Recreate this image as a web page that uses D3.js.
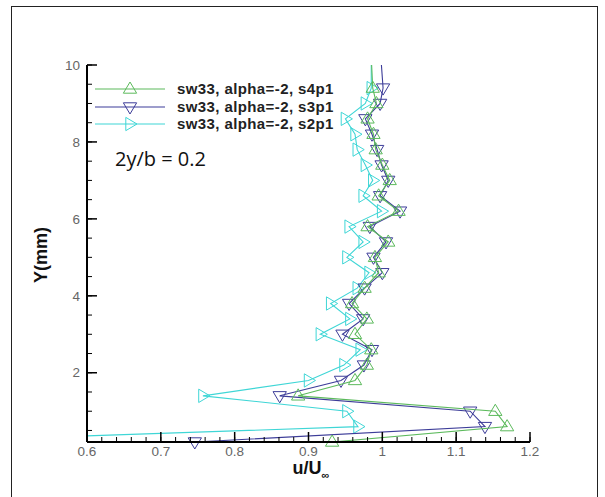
<!DOCTYPE html>
<html>
<head>
<meta charset="utf-8">
<script src="https://cdn.jsdelivr.net/npm/d3@7"></script>
<style>
  body { margin: 0; background: #fff; }
  svg { display: block; }
  text { font-family: "Liberation Sans", Arial, sans-serif; }
</style>
</head>
<body>
<div id="chart"></div>
<script>
// Y positions (mm) of the probe points
var yPos = [0.2, 0.6, 1.0, 1.4, 1.8, 2.2, 2.6, 3.0, 3.4, 3.8, 4.2, 4.6, 5.0, 5.4, 5.8, 6.2, 6.6, 7.0, 7.4, 7.8, 8.2, 8.6, 9.0, 9.4, 10.2];

// u/U_inf for each run
var s4p1 = [0.932, 1.169, 1.153, 0.886, 0.963, 0.979, 0.985, 0.963, 0.979, 0.959, 0.976, 0.995, 0.990, 1.008, 0.980, 1.022, 0.995, 1.010, 1.000, 0.991, 0.988, 0.980, 0.992, 0.987, 0.985];
var s3p1 = [0.746, 1.139, 1.119, 0.861, 0.944, 0.975, 0.986, 0.946, 0.974, 0.955, 0.976, 1.000, 0.988, 1.005, 0.983, 1.024, 0.997, 1.008, 0.999, 0.993, 0.986, 0.977, 0.997, 1.001, 0.998];
var s2p1 = [0.360, 0.967, 0.952, 0.757, 0.900, 0.948, 0.970, 0.916, 0.956, 0.930, 0.966, 0.982, 0.952, 0.974, 0.955, 0.999, 0.974, 0.987, 0.977, 0.966, 0.963, 0.950, 0.977, 0.985, 0.985];

var seriesNames = ["sw33, alpha=-2, s4p1", "sw33, alpha=-2, s3p1", "sw33, alpha=-2, s2p1"];

var xTicks = [0.6, 0.7, 0.8, 0.9, 1.0, 1.1, 1.2];
var xTickLabels = ["0.6", "0.7", "0.8", "0.9", "1", "1.1", "1.2"];
var yTicks = [2, 4, 6, 8, 10];

var W = 605, H = 497;
var margin = {top: 65, right: 75, bottom: 55, left: 87},
    width = 530 - margin.left,
    height = 442 - margin.top;

var svg = d3.select("#chart")
    .append("svg")
    .attr("width", W)
    .attr("height", H);

// outer frame
svg.append("rect")
    .attr("x", 11.5).attr("y", 6.5)
    .attr("width", 586).attr("height", 500)
    .attr("fill", "none")
    .attr("stroke", "#222")
    .attr("stroke-width", 1);

var g = svg.append("g")
    .attr("transform", "translate(" + margin.left + "," + margin.top + ")");

var x = d3.scaleLinear().domain([0.6, 1.2]).range([0, width]);
var y = d3.scaleLinear().domain([0.2, 10]).range([height, 0]);

g.append("clipPath").attr("id", "plotclip")
  .append("rect").attr("x", 0).attr("y", 0).attr("width", width).attr("height", height);

var series = [
    {name: seriesNames[0], vals: s4p1, color: "#5cba5c", shape: "up"},
    {name: seriesNames[1], vals: s3p1, color: "#3d3d99", shape: "down"},
    {name: seriesNames[2], vals: s2p1, color: "#3fd6d6", shape: "right"}
];

function tri(shape, s) {
    // outline triangle centred on 0,0
    if (shape == "up") return "M0," + (-s) + "L" + (s * 0.95) + "," + (s * 0.6) + "L" + (-s * 0.95) + "," + (s * 0.6) + "Z";
    if (shape == "down") return "M0," + s + "L" + (s * 0.95) + "," + (-s * 0.6) + "L" + (-s * 0.95) + "," + (-s * 0.6) + "Z";
    return "M" + s + ",0L" + (-s * 0.6) + "," + (s * 0.95) + "L" + (-s * 0.6) + "," + (-s * 0.95) + "Z";
}

var line = d3.line()
    .x(function(d) { return x(d[0]); })
    .y(function(d) { return y(d[1]); });

// draw back to front: cyan, blue, green
series.slice().reverse().forEach(function(s) {
    var pts = s.vals.map(function(v, i) { return [v, yPos[i]]; });
    g.append("path")
        .datum(pts)
        .attr("clip-path", "url(#plotclip)")
        .attr("fill", "none")
        .attr("stroke", s.color)
        .attr("stroke-width", 1.1)
        .attr("d", line);
    g.selectAll(null)
        .data(pts.filter(function(d) { return d[0] >= 0.6 && d[1] <= 10; }))
        .enter().append("path")
        .attr("transform", function(d) { return "translate(" + x(d[0]) + "," + y(d[1]) + ")"; })
        .attr("d", tri(s.shape, 7))
        .attr("fill", "none")
        .attr("stroke", s.color)
        .attr("stroke-width", 1);
});

// X axis, ticks pointing inward
var xMinor = d3.range(0.6, 1.2001, 0.02);
g.selectAll(".xminor").data(xMinor).enter().append("line")
    .attr("x1", function(d) { return x(d); }).attr("x2", function(d) { return x(d); })
    .attr("y1", height).attr("y2", height - 5)
    .attr("stroke", "#000").attr("stroke-width", 1);
g.selectAll(".xmajor").data(xTicks).enter().append("line")
    .attr("x1", function(d) { return x(d); }).attr("x2", function(d) { return x(d); })
    .attr("y1", height).attr("y2", height - 10)
    .attr("stroke", "#000").attr("stroke-width", 1.5);
g.selectAll(".xlab").data(xTicks).enter().append("text")
    .attr("x", function(d) { return x(d); })
    .attr("y", height + 14)
    .attr("text-anchor", "middle")
    .style("font-size", "13.5px")
    .style("fill", "#666")
    .text(function(d, i) { return xTickLabels[i]; });

// Y axis
var yMinor = d3.range(0.5, 10.001, 0.5);
g.selectAll(".yminor").data(yMinor).enter().append("line")
    .attr("x1", 0).attr("x2", 5)
    .attr("y1", function(d) { return y(d); }).attr("y2", function(d) { return y(d); })
    .attr("stroke", "#000").attr("stroke-width", 1);
g.selectAll(".ymajor").data(yTicks).enter().append("line")
    .attr("x1", 0).attr("x2", 10)
    .attr("y1", function(d) { return y(d); }).attr("y2", function(d) { return y(d); })
    .attr("stroke", "#000").attr("stroke-width", 1.5);
g.selectAll(".ylab").data(yTicks).enter().append("text")
    .attr("x", -7)
    .attr("y", function(d) { return y(d); })
    .attr("dy", "0.35em")
    .attr("text-anchor", "end")
    .style("font-size", "13.5px")
    .style("fill", "#666")
    .text(function(d) { return d; });

g.append("line").attr("x1", 0).attr("x2", 0).attr("y1", 0).attr("y2", height)
    .attr("stroke", "#000").attr("stroke-width", 2);
g.append("line").attr("x1", 0).attr("x2", width).attr("y1", height).attr("y2", height)
    .attr("stroke", "#000").attr("stroke-width", 2);

// axis titles
svg.append("text")
    .attr("transform", "translate(47,255) rotate(-90)")
    .attr("text-anchor", "middle")
    .style("font-size", "18px")
    .style("font-weight", "bold")
    .style("fill", "#111")
    .text("Y(mm)");

var xt = svg.append("text")
    .attr("x", 311).attr("y", 474)
    .attr("text-anchor", "middle")
    .style("font-size", "18px")
    .style("font-weight", "bold")
    .style("fill", "#111");
xt.append("tspan").text("u/U");
xt.append("tspan").attr("dy", 5).style("font-size", "11px").text("\u221e");

// legend
var legY = [89, 107, 124];
series.forEach(function(s, i) {
    svg.append("line")
        .attr("x1", 95).attr("x2", 165)
        .attr("y1", legY[i]).attr("y2", legY[i])
        .attr("stroke", s.color).attr("stroke-width", 1.1);
    svg.append("path")
        .attr("transform", "translate(130," + legY[i] + ")")
        .attr("d", tri(s.shape, 7))
        .attr("fill", "none")
        .attr("stroke", s.color);
    svg.append("text")
        .attr("x", 177).attr("y", legY[i])
        .attr("dy", "0.35em")
        .style("font-size", "15px")
        .style("font-weight", "bold")
        .style("letter-spacing", "0.4px")
        .style("fill", "#222")
        .text(s.name);
});

svg.append("text")
    .attr("x", 115).attr("y", 166)
    .style("font-family", "'Open Sans', sans-serif")
    .style("font-size", "20px")
    .style("fill", "#111")
    .text("2y/b = 0.2");
</script>
</body>
</html>
